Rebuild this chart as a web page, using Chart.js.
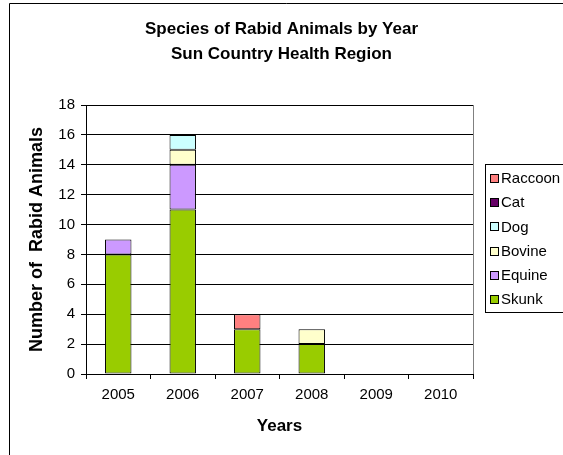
<!DOCTYPE html>
<html>
<head>
<meta charset="utf-8">
<script src="https://cdn.jsdelivr.net/npm/chart.js@4/dist/chart.umd.min.js"></script>
<style>
  html, body { margin: 0; padding: 0; background: #fff; overflow: hidden; }
  canvas { display: block; }
</style>
</head>
<body>
<canvas id="c" width="563" height="455"></canvas>
<script>
const titleLines = ['Species of Rabid Animals by Year', 'Sun Country Health Region'];
const xAxisTitle = 'Years';
const yAxisTitle = 'Number of  Rabid Animals';
const years = ['2005', '2006', '2007', '2008', '2009', '2010'];
const yTicksMin = 0, yTicksMax = 18, yTicksStep = 2;

const seriesNames = ['Skunk', 'Equine', 'Bovine', 'Dog', 'Cat', 'Raccoon'];
const skunk   = [8, 11, 3, 2, 0, 0];
const equine  = [1, 3, 0, 0, 0, 0];
const bovine  = [0, 1, 0, 1, 0, 0];
const dog     = [0, 1, 0, 0, 0, 0];
const cat     = [0, 0, 0, 0, 0, 0];
const raccoon = [0, 0, 1, 0, 0, 0];
const seriesValues = [skunk, equine, bovine, dog, cat, raccoon];
const seriesColors = ['#99CC00', '#CC99FF', '#FFFFCC', '#CCFFFF', '#660066', '#FF8080'];

const FONT = "'Liberation Sans', Arial, Helvetica, sans-serif";
Chart.defaults.font.family = FONT;
Chart.defaults.color = '#000';

const datasets = seriesNames.map((name, i) => ({
  label: name,
  data: seriesValues[i],
  backgroundColor: seriesColors[i],
  borderColor: '#000',
  borderWidth: c => (c.raw ? 1 : 0),
  borderSkipped: false,
  barPercentage: 1.0,
  categoryPercentage: 0.41,
  yAxisID: 'y'
}));

const framePlugin = {
  id: 'frame',
  beforeDraw(chart) {
    const ctx = chart.ctx;
    ctx.save();
    ctx.fillStyle = '#fff';
    ctx.fillRect(0, 0, chart.width, chart.height);
    ctx.strokeStyle = '#000';
    ctx.lineWidth = 1;
    ctx.beginPath();
    ctx.moveTo(9.5, chart.height + 2);
    ctx.lineTo(9.5, 3.5);
    ctx.lineTo(chart.width + 2, 3.5);
    ctx.stroke();
    ctx.restore();
  },
  afterDraw(chart) {
    const ctx = chart.ctx;
    const a = chart.chartArea;
    ctx.save();
    // right edge of plot area
    ctx.strokeStyle = '#808080';
    ctx.lineWidth = 1;
    ctx.beginPath();
    ctx.moveTo(Math.round(a.right) + 0.5, a.top);
    ctx.lineTo(Math.round(a.right) + 0.5, a.bottom);
    ctx.stroke();

    // legend box
    const bx = 485.5, by = 164.5, bh = 148;
    ctx.fillStyle = '#fff';
    ctx.fillRect(bx, by, 100, bh);
    ctx.strokeStyle = '#000';
    ctx.strokeRect(bx, by, 100, bh);
    ctx.font = '15px ' + FONT;
    ctx.textBaseline = 'middle';
    ctx.textAlign = 'left';
    const ds = chart.data.datasets;
    for (let k = 0; k < ds.length; k++) {
      const d = ds[ds.length - 1 - k];
      const cy = 178 + k * 24.2;
      const sy = Math.round(cy - 4) + 0.5;
      ctx.fillStyle = d.backgroundColor;
      ctx.fillRect(490.5, sy, 8, 8);
      ctx.strokeStyle = '#000';
      ctx.strokeRect(490.5, sy, 8, 8);
      ctx.fillStyle = '#000';
      ctx.fillText(d.label, 501, cy + 1);
    }
    ctx.restore();
  }
};

new Chart(document.getElementById('c'), {
  type: 'bar',
  data: { labels: years, datasets },
  plugins: [framePlugin],
  options: {
    responsive: false,
    animation: false,
    devicePixelRatio: 1,
    layout: { padding: 0 },
    plugins: {
      legend: { display: false },
      tooltip: { enabled: false },
      title: {
        display: true,
        text: titleLines,
        color: '#000',
        font: { size: 17, weight: 'bold', lineHeight: 25 / 17 },
        padding: { top: 16.5, bottom: 38.5 }
      }
    },
    scales: {
      x: {
        stacked: true,
        offset: true,
        afterFit: s => { s.height = 81; },
        grid: { display: true, offset: true, drawOnChartArea: false, drawTicks: true, tickLength: 5, color: '#000', lineWidth: 1 },
        border: { display: true, color: '#000', width: 1 },
        ticks: { font: { size: 15 }, color: '#000', padding: 6.5, maxRotation: 0 },
        title: { display: true, text: xAxisTitle, color: '#000', font: { size: 17, weight: 'bold' }, padding: { top: 0, bottom: 18.8 } }
      },
      y: {
        stacked: true,
        min: yTicksMin,
        max: yTicksMax,
        afterFit: s => { s.width = 86; },
        ticks: { stepSize: yTicksStep, font: { size: 15 }, color: '#000', padding: 6 },
        grid: { color: '#000', lineWidth: 1, drawTicks: true, tickLength: 5 },
        border: { display: true, color: '#000', width: 1 },
        title: { display: true, text: yAxisTitle, color: '#000', font: { size: 18, weight: 'bold' }, padding: { top: 26.2, bottom: 0 } }
      },
      legendSpace: {
        type: 'linear',
        position: 'right',
        min: 0,
        max: 1,
        afterFit: s => { s.width = 90; },
        grid: { display: false, drawTicks: false },
        border: { display: false },
        ticks: { display: false },
        title: { display: false }
      }
    }
  }
});
</script>
</body>
</html>
